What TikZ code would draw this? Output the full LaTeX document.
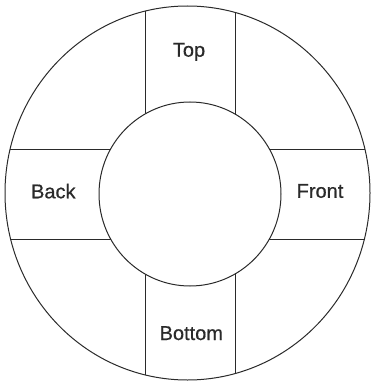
\documentclass[tikz,border=0pt]{standalone}
\usepackage{fontspec}
\setmainfont{Liberation Sans}
\newfontfamily\lblfont[FakeBold=0.6]{Liberation Sans}
\definecolor{ink}{HTML}{2A2A2A}
\begin{document}
\begin{tikzpicture}[x=1pt,y=-1pt,
  rim/.style={draw=ink,line width=1pt},
  label/.style={anchor=base,inner sep=0pt,text=ink,font=\lblfont\fontsize{20}{24}\selectfont}]
\useasboundingbox (0,0) rectangle (373,385);
% outer disc bands
\begin{scope}
  \clip (187.5,193) ellipse [x radius=182.5, y radius=187];
  \draw[rim] (0,149.5) -- (373,149.5);
  \draw[rim] (0,239) -- (373,239);
  \draw[rim] (145.5,0) -- (145.5,385);
  \draw[rim] (235.5,0) -- (235.5,385);
\end{scope}
\draw[rim] (187.5,193) ellipse [x radius=182.5, y radius=187];
\filldraw[rim,fill=white] (190,194) ellipse [x radius=91, y radius=92];
\node[label] (top) at (189,56.7) {Top};
\node[label] (back) at (53.3,198.3) {Back};
\node[label] (front) at (320,197.8) {Front};
\node[label] (bottom) at (191.3,340) {Bottom};
\end{tikzpicture}
\end{document}
